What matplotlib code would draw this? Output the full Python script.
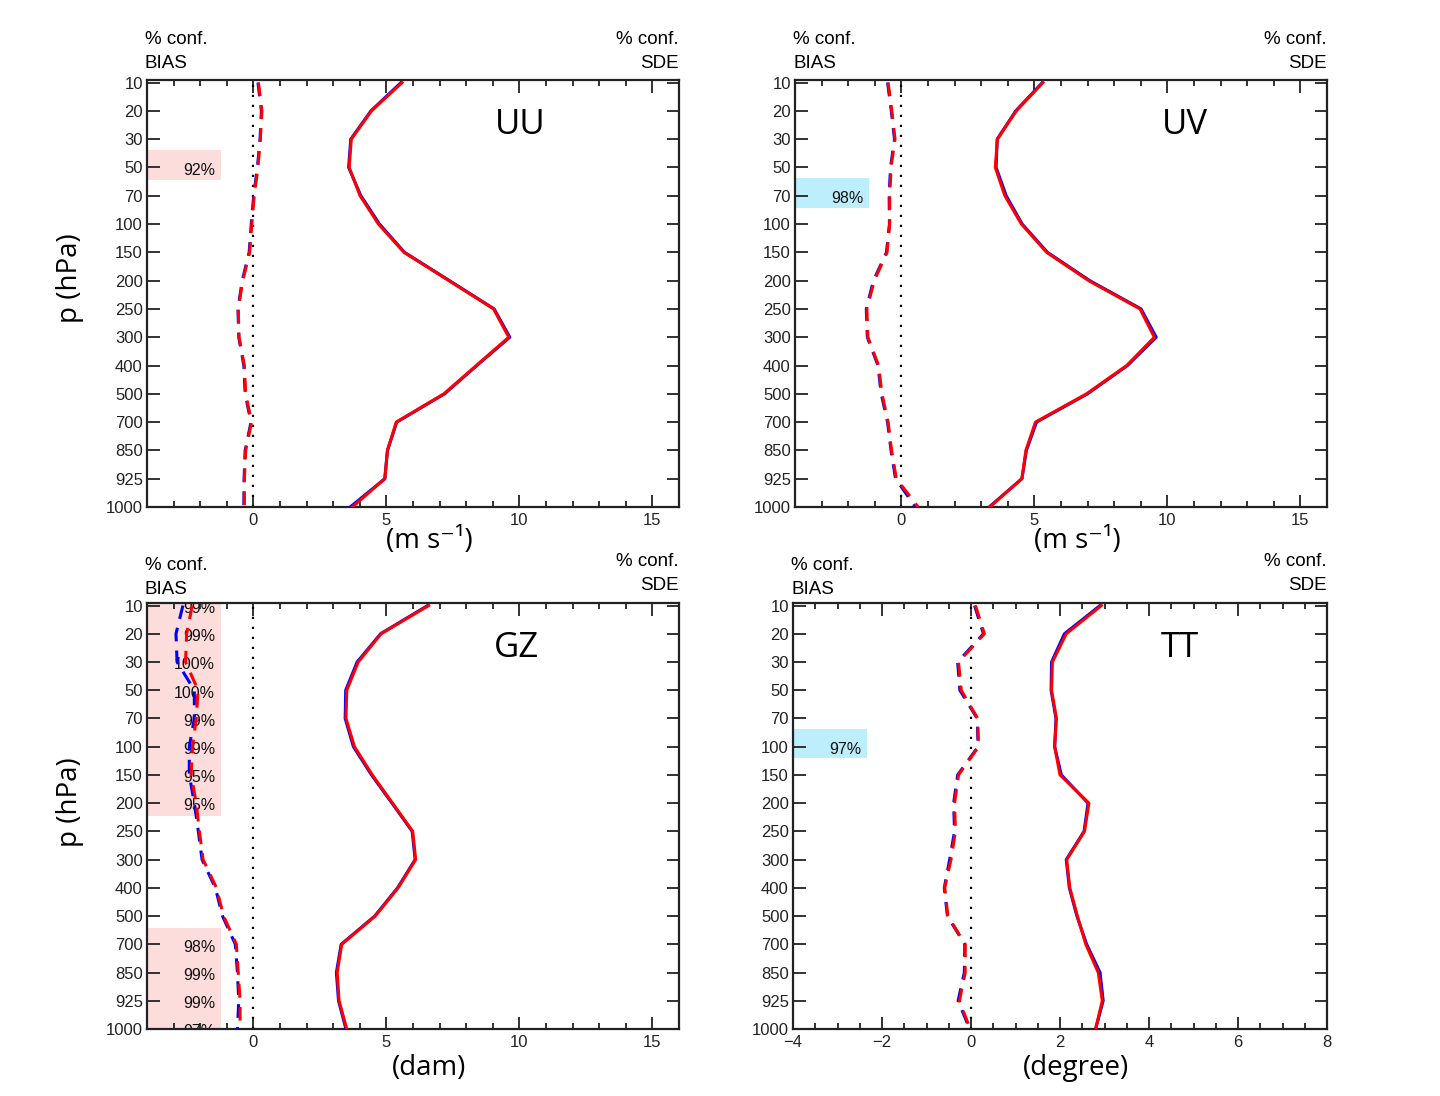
import matplotlib.pyplot as plt
import numpy as np
from matplotlib.ticker import MultipleLocator

# pressure levels (hPa), plotted as equally spaced categories
levels = [10, 20, 30, 50, 70, 100, 150, 200, 250, 300, 400, 500, 700, 850, 925, 1000]

# UU
uu_sde_red = [5.59, 4.44, 3.68, 3.60, 4.01, 4.70, 5.66, 7.35, 9.03, 9.60, 8.38, 7.16, 5.37, 5.04, 4.94, 3.72]
uu_sde_blue = [5.55, 4.42, 3.66, 3.58, 4.04, 4.74, 5.68, 7.37, 9.05, 9.64, 8.40, 7.19, 5.39, 5.04, 4.94, 3.64]
uu_bias_red = [0.19, 0.32, 0.26, 0.17, 0.03, -0.06, -0.14, -0.40, -0.57, -0.54, -0.34, -0.29, -0.07, -0.29, -0.34, -0.34]
uu_bias_blue = [0.17, 0.30, 0.25, 0.15, 0.01, -0.08, -0.16, -0.42, -0.58, -0.55, -0.36, -0.31, -0.09, -0.31, -0.35, -0.36]

# UV
uv_sde_red = [5.32, 4.32, 3.61, 3.53, 3.89, 4.51, 5.46, 7.04, 8.97, 9.51, 8.47, 6.96, 5.04, 4.68, 4.53, 3.32]
uv_sde_blue = [5.30, 4.30, 3.60, 3.56, 3.94, 4.54, 5.49, 7.08, 9.01, 9.58, 8.50, 7.00, 5.08, 4.70, 4.53, 3.30]
uv_bias_red = [-0.50, -0.36, -0.24, -0.39, -0.44, -0.44, -0.54, -1.02, -1.30, -1.26, -0.86, -0.73, -0.50, -0.37, -0.19, 0.63]
uv_bias_blue = [-0.52, -0.38, -0.26, -0.41, -0.46, -0.45, -0.56, -1.05, -1.32, -1.28, -0.88, -0.76, -0.52, -0.39, -0.22, 0.53]

# GZ
gz_sde_red = [6.59, 4.80, 3.94, 3.51, 3.48, 3.80, 4.47, 5.23, 5.99, 6.10, 5.44, 4.58, 3.32, 3.15, 3.22, 3.51]
gz_sde_blue = [6.55, 4.78, 3.90, 3.47, 3.45, 3.76, 4.44, 5.21, 5.97, 6.08, 5.42, 4.56, 3.30, 3.12, 3.20, 3.48]
gz_bias_red = [-2.30, -2.51, -2.55, -2.08, -2.15, -2.29, -2.34, -2.15, -2.03, -1.89, -1.39, -1.12, -0.64, -0.57, -0.50, -0.50]
gz_bias_blue = [-2.65, -2.91, -2.87, -2.22, -2.22, -2.41, -2.41, -2.22, -2.07, -1.93, -1.43, -1.16, -0.68, -0.60, -0.55, -0.60]

# TT
tt_sde_red = [2.93, 2.14, 1.83, 1.81, 1.92, 1.88, 2.00, 2.65, 2.55, 2.15, 2.22, 2.39, 2.58, 2.86, 2.95, 2.80]
tt_sde_blue = [2.90, 2.10, 1.81, 1.80, 1.91, 1.88, 2.03, 2.63, 2.54, 2.14, 2.21, 2.38, 2.60, 2.90, 2.97, 2.80]
tt_bias_red = [0.10, 0.30, -0.28, -0.22, 0.15, 0.17, -0.28, -0.37, -0.35, -0.45, -0.59, -0.52, -0.13, -0.13, -0.26, -0.02]
tt_bias_blue = [0.08, 0.28, -0.30, -0.25, 0.14, 0.16, -0.30, -0.39, -0.37, -0.48, -0.60, -0.53, -0.14, -0.15, -0.29, -0.03]

# significance boxes: (top index, bottom index, colour) and level labels
uu_spans = [(2.4, 3.45, 'pink')]
uu_conf_idx = [3]
uu_conf_txt = ['92%']
uv_spans = [(3.37, 4.43, 'cyan')]
uv_conf_idx = [4]
uv_conf_txt = ['98%']
gz_spans = [(-0.1, 7.45, 'pink'), (11.41, 15.1, 'pink')]
gz_conf_idx = [0, 1, 2, 3, 4, 5, 6, 7, 12, 13, 14, 15]
gz_conf_txt = ['99%', '99%', '100%', '100%', '99%', '99%', '95%', '95%', '98%', '99%', '99%', '97%']
tt_spans = [(4.39, 5.41, 'cyan')]
tt_conf_idx = [5]
tt_conf_txt = ['97%']

span_colors = {'pink': '#fddcdc', 'cyan': '#bdeefc'}

W, H = 1440, 1096
fig = plt.figure(figsize=(W / 100, H / 100), dpi=100)

tick_font = dict(family=['Liberation Sans', 'DejaVu Sans'], size=12)
narrow = ['Liberation Sans Narrow', 'Liberation Sans', 'DejaVu Sans']
big = ['Open Sans', 'DejaVu Sans']


def rect(left, top, right, bottom):
    return [left / W, (H - bottom) / H, (right - left) / W, (bottom - top) / H]


panels = [
    dict(rect=rect(147, 80, 679, 507), name='UU', tx=0.701, sde=(uu_sde_red, uu_sde_blue), bias=(uu_bias_red, uu_bias_blue),
         xlim=(-4, 16), major=5, minor=1, spans=uu_spans, idx=uu_conf_idx, txt=uu_conf_txt, unit='(m s⁻¹)', upad=34),
    dict(rect=rect(795, 80, 1327, 507), name='UV', tx=0.733, sde=(uv_sde_red, uv_sde_blue), bias=(uv_bias_red, uv_bias_blue),
         xlim=(-4, 16), major=5, minor=1, spans=uv_spans, idx=uv_conf_idx, txt=uv_conf_txt, unit='(m s⁻¹)', upad=34),
    dict(rect=rect(147, 603, 679, 1029), name='GZ', tx=0.695, sde=(gz_sde_red, gz_sde_blue), bias=(gz_bias_red, gz_bias_blue),
         xlim=(-4, 16), major=5, minor=1, spans=gz_spans, idx=gz_conf_idx, txt=gz_conf_txt, unit='(dam)', upad=39),
    dict(rect=rect(793, 603, 1327, 1029), name='TT', tx=0.725, sde=(tt_sde_red, tt_sde_blue), bias=(tt_bias_red, tt_bias_blue),
         xlim=(-4, 8), major=2, minor=0.5, spans=tt_spans, idx=tt_conf_idx, txt=tt_conf_txt, unit='(degree)', upad=39),
]

y = np.arange(len(levels))
dash = (0, (4.5, 3))

for p in panels:
    ax = fig.add_axes(p['rect'])
    for top, bot, c in p['spans']:
        ax.axhspan(top, bot, xmin=0, xmax=0.139, color=span_colors[c], lw=0, zorder=0)
    for i, t in zip(p['idx'], p['txt']):
        ax.text(0.128, i + 0.1, t, transform=ax.get_yaxis_transform(), ha='right', va='center',
                fontsize=11.5, family=['Liberation Sans', 'DejaVu Sans'], color='#111111', clip_on=True, zorder=1)
    ax.axvline(0, color='black', ls=(0, (1, 3.5)), lw=1.6, zorder=2)
    ax.plot(p['sde'][1], y, color='blue', lw=2.2, zorder=3)
    ax.plot(p['sde'][0], y, color='red', lw=2.2, zorder=4)
    ax.plot(p['bias'][1], y, color='blue', lw=2.2, ls=dash, zorder=3)
    ax.plot(p['bias'][0], y, color='red', lw=2.2, ls=dash, zorder=4)

    ax.set_xlim(*p['xlim'])
    ax.set_ylim(15, -0.09)
    ax.set_yticks(y)
    ax.set_yticklabels([str(v) for v in levels], **tick_font)
    ax.xaxis.set_major_locator(MultipleLocator(p['major']))
    ax.xaxis.set_minor_locator(MultipleLocator(p['minor']))
    for lab in ax.get_xticklabels():
        lab.set_fontfamily(tick_font['family'])
        lab.set_fontsize(tick_font['size'])
    ax.tick_params(which='both', direction='in', top=True, right=True, width=1.3, colors='#222222')
    ax.tick_params(which='major', length=9)
    ax.tick_params(which='minor', length=4.5)
    ax.tick_params(axis='y', pad=3)
    ax.tick_params(axis='x', pad=4)
    for s in ax.spines.values():
        s.set_linewidth(1.6)
        s.set_color('#222222')

    ax.text(p['tx'], 0.895, p['name'], transform=ax.transAxes, ha='center', va='center', fontsize=25, family=big)

    # corner labels
    l, b, w, h = p['rect']
    ytop = b + h
    off = 0 if p['name'] in ('UU', 'UV') else 3 / H
    fig.text(l - 2 / W, ytop + 41 / H - off, '% conf.', ha='left', va='center', fontsize=13.5, family=narrow)
    fig.text(l - 2 / W, ytop + 17 / H - off, 'BIAS', ha='left', va='center', fontsize=13.5, family=narrow)
    fig.text(l + w, ytop + 41 / H, '% conf.', ha='right', va='center', fontsize=13.5, family=narrow)
    fig.text(l + w, ytop + 17 / H, 'SDE', ha='right', va='center', fontsize=13.5, family=narrow)

    # unit label under the axis
    fig.text(l + w * 0.53, b - p['upad'] / H, p['unit'], ha='center', va='center', fontsize=20, family=big)

fig.text(70 / W, 1 - 278 / H, 'p (hPa)', rotation=90, ha='center', va='center', fontsize=20, family=big)
fig.text(70 / W, 1 - 802 / H, 'p (hPa)', rotation=90, ha='center', va='center', fontsize=20, family=big)

fig.savefig('out.png', dpi=100)
